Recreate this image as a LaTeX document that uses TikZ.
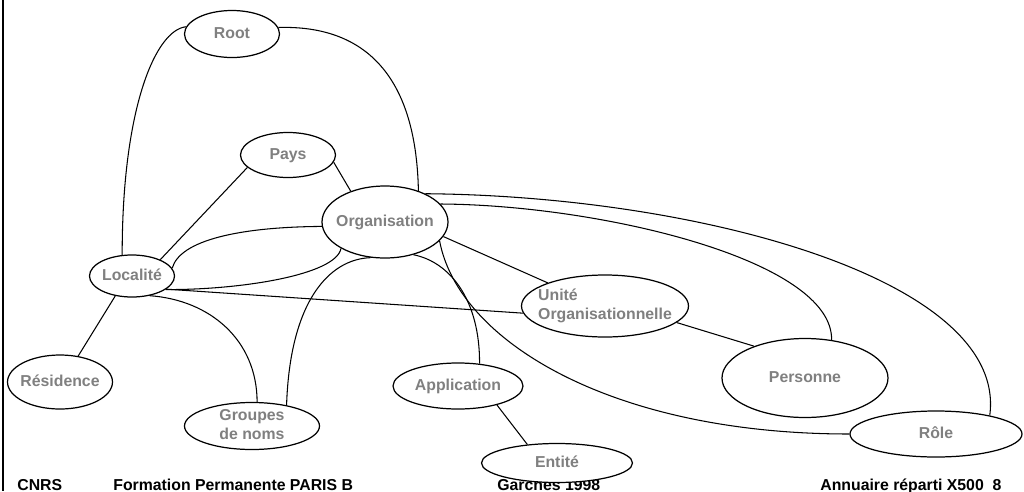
\documentclass[tikz,border=0pt]{standalone}
\usepackage{fontspec}
\setmainfont{Liberation Sans}
\usetikzlibrary{shapes.geometric}
% texte centre sans elargir l'ellipse
\newcommand{\etiq}[2][c]{\makebox[0pt]{\raisebox{-2.5pt}[0pt][0pt]{\begin{tabular}{@{}#1@{}}#2\end{tabular}}}}

\begin{document}
\begin{tikzpicture}[x=0.2mm,y=-0.2mm]
  \tikzset{objet/.style 2 args={draw,ellipse,fill=white,inner sep=0pt,line width=0.7pt,minimum width=#1*0.2mm,minimum height=#2*0.2mm,text=gray,font=\bfseries\fontsize{9}{10.5}\selectfont},
           lien/.style={line width=0.6pt},
           pied/.style={anchor=base west,inner sep=0pt,font=\bfseries\fontsize{9}{10.5}\selectfont}}
  \useasboundingbox (0,0) rectangle (1024,491);
  \draw[line width=1.1pt] (3,0) -- (3,491);
  % pied de page
  \node[pied] (cnrs) at (17,490) {CNRS};
  \node[pied] (form) at (113,490) {Formation Permanente PARIS B};
  \node[pied] (lieu) at (497,490) {Garches 1998};
  \node[pied] (titre) at (820,490) {Annuaire réparti X500\ \ 8};
  % objets
  \node[objet={95}{47}] (root) at (232,34) {\etiq{Root}};
  \node[objet={95}{45}] (pays) at (288,155) {\etiq{Pays}};
  \node[objet={126}{72}] (org) at (385,222) {\etiq{Organisation}};
  \node[objet={85}{42}] (loc) at (132,276) {\etiq{Localité}};
  \node[objet={105}{54}] (res) at (60,382) {\etiq{Résidence}};
  \node[objet={135}{47}] (grp) at (252,426) {\etiq{Groupes\\de noms}};
  \node[objet={130}{46}] (app) at (458,386) {\etiq{Application}};
  \node[objet={151}{39}] (ent) at (557,463) {\etiq{Entité}};
  \node[objet={167}{62}] (uo) at (605,306) {\etiq[l]{Unité\\Organisationnelle}};
  \node[objet={166}{79}] (pers) at (805,378) {\etiq{Personne}};
  \node[objet={172}{46}] (role) at (936,434) {\etiq{Rôle}};
  % liens
  \draw[lien] (root.171) .. controls (155,30) and (122,110) .. (loc.115);
  \draw[lien] (root.8) .. controls (360,25) and (416,70) .. (org.43);
  \draw[lien] (pays.197) -- (loc.30);
  \draw[lien] (pays.351) -- (org.138);
  \draw[lien] (loc.11) .. controls (180,240) and (240,227) .. (org.184);
  \draw[lien] (org.211) .. controls (336,275) and (240,290) .. (loc.338);
  \draw[lien] (loc.339) -- (uo.185);
  \draw[lien] (loc.312) .. controls (210,300) and (257,340) .. (grp.78);
  \draw[lien] (org.248) .. controls (330,259) and (290,300) .. (grp.31);
  \draw[lien] (org.311) .. controls (450,262) and (480,300) .. (app.46);
  \draw[lien] (org.341) .. controls (458,340) and (610,434) .. (role.180);
  \draw[lien] (org.346) -- (uo.158);
  \draw[lien] (uo.347) -- (pers.148);
  \draw[lien] (org.18) .. controls (600,205) and (833,260) .. (pers.55);
  \draw[lien] (org.35) .. controls (700,196) and (1008,280) .. (role.19);
  \draw[lien] (app.334) -- (ent.148);
  \draw[lien] (loc.230) -- (res.55);
\end{tikzpicture}
\end{document}
